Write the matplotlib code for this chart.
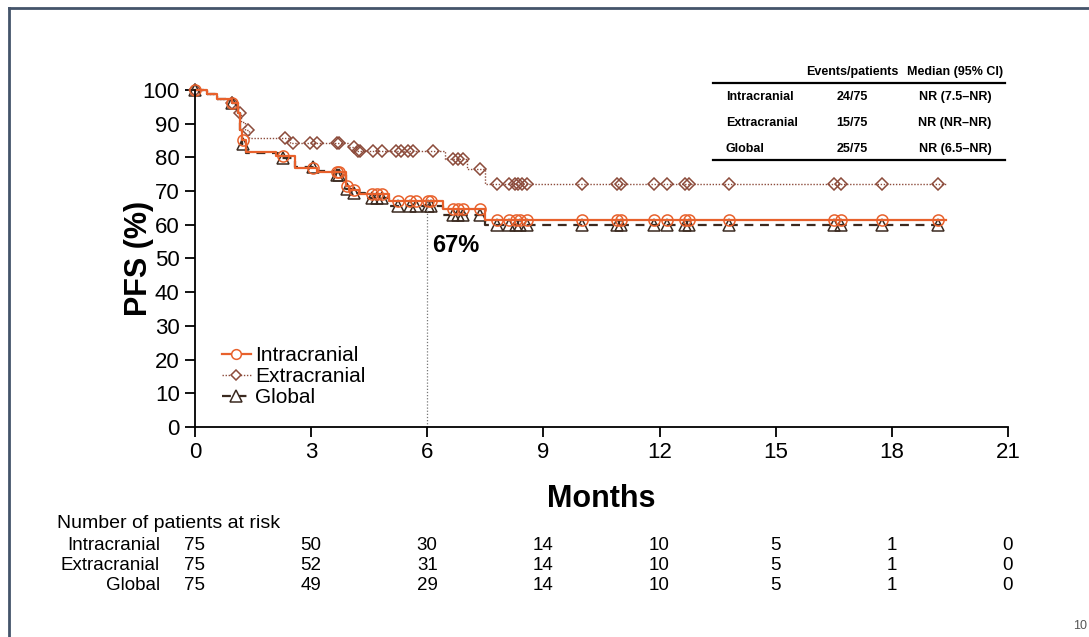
import numpy as np
import matplotlib
matplotlib.use("Agg")
import matplotlib.pyplot as plt
from matplotlib.lines import Line2D
from matplotlib.transforms import blended_transform_factory

plt.rcParams['font.family'] = ['Liberation Sans', 'DejaVu Sans']

# Kaplan-Meier steps (months, PFS %) and censoring times per group
ic_t = [0, 0.31, 0.56, 0.95, 1.10, 1.16, 1.22, 1.33, 2.10, 2.58, 3.15, 3.90, 3.97, 4.25, 5.00, 6.40, 7.50]
ic_s = [100, 98.7, 97.3, 96.0, 93.3, 88.0, 85.3, 81.7, 80.3, 77.0, 75.8, 71.6, 70.4, 69.2, 67.0, 64.7, 61.4]
ic_cens = [0.0, 0.97, 1.24, 2.28, 3.04, 3.66, 3.72, 3.93, 4.10, 4.57, 4.70, 4.82, 5.25, 5.55, 5.70,
           6.02, 6.10, 6.67, 6.80, 6.93, 7.36, 7.80, 8.10, 8.30, 8.40, 8.57, 10.0, 10.9, 11.0,
           11.85, 12.2, 12.67, 12.75, 13.8, 16.5, 16.7, 17.75, 19.2]

ec_t = [0, 0.31, 0.56, 0.95, 1.12, 1.18, 1.30, 1.40, 2.45, 3.95, 4.15, 6.46, 7.02, 7.50]
ec_s = [100, 98.7, 97.3, 96.0, 93.3, 90.6, 88.0, 85.7, 84.4, 83.1, 82.0, 79.5, 76.5, 72.2]
ec_cens = [0.0, 0.97, 1.16, 1.37, 2.33, 2.53, 2.97, 3.14, 3.66, 3.72, 4.10, 4.20, 4.27, 4.60,
           4.82, 5.20, 5.33, 5.50, 5.63, 6.15, 6.67, 6.80, 6.93, 7.36, 7.80, 8.10, 8.27, 8.35,
           8.44, 8.57, 10.0, 10.9, 11.0, 11.85, 12.2, 12.67, 12.75, 13.8, 16.5, 16.7, 17.75, 19.2]

gl_t = [0, 0.31, 0.56, 0.95, 1.10, 1.16, 1.22, 1.33, 2.15, 2.58, 3.10, 3.60, 3.90, 4.05, 4.40, 5.00, 6.40, 7.50]
gl_s = [100, 98.7, 97.3, 96.0, 93.3, 88.0, 84.0, 81.3, 79.9, 77.3, 76.0, 74.7, 70.7, 69.3, 68.0, 65.5, 63.0, 60.0]
gl_cens = ic_cens

last_fu = 19.4

groups = ['Intracranial', 'Extracranial', 'Global']
events = ['24/75', '15/75', '25/75']
medians = ['NR (7.5\u2013NR)', 'NR (NR\u2013NR)', 'NR (6.5\u2013NR)']

risk_months = [0, 3, 6, 9, 12, 15, 18, 21]
risk_ic = [75, 50, 30, 14, 10, 5, 1, 0]
risk_ec = [75, 52, 31, 14, 10, 5, 1, 0]
risk_gl = [75, 49, 29, 14, 10, 5, 1, 0]

orange = '#e8612c'
brown = '#8c4b3b'
dark = '#3b2a20'


def km_at(t, s, x):
    idx = np.searchsorted(t, x, side='right') - 1
    return np.asarray(s)[idx]


fig = plt.figure(figsize=(10.89, 6.37), dpi=100)
ax = fig.add_axes([0.179, 0.3297, 0.7466, 0.529])

series = [
    (ec_t, ec_s, ec_cens, brown, (0, (1, 1.2)), 1.0, 'D', 6.5, 'Extracranial'),
    (gl_t, gl_s, gl_cens, dark, (0, (4, 3)), 1.6, '^', 9, 'Global'),
    (ic_t, ic_s, ic_cens, orange, '-', 1.6, 'o', 8, 'Intracranial'),
]
handles = {}
for t, s, cens, col, ls, lw, mk, ms, name in series:
    ax.step(t + [last_fu], s + [s[-1]], where='post', color=col, ls=ls, lw=lw, clip_on=False)
    mcol = dark if mk == '^' else col
    ax.plot(cens, km_at(t, s, cens), ls='none', marker=mk, ms=ms, mfc='none',
            mec=mcol, mew=1.1, clip_on=False)
    handles[name] = Line2D([], [], color=col, ls=ls, lw=lw, marker=mk, ms=ms - 1,
                           mfc='white', mec=mcol, mew=1.1)

# landmark at 6 months
v6 = km_at(ic_t, ic_s, 6)
ax.plot([6, 6], [0, v6], color='#777777', ls=(0, (1, 1.5)), lw=0.9)
ax.text(6.12, 54, f'{v6:.0f}%', fontsize=17, fontweight='bold', va='center', ha='left')

ax.set_xlim(0, 21)
ax.set_ylim(0, 100)
ax.set_xticks(range(0, 22, 3))
ax.set_yticks(range(0, 101, 10))
for sp in ['top', 'right']:
    ax.spines[sp].set_visible(False)
for sp in ['left', 'bottom']:
    ax.spines[sp].set_linewidth(1.3)
ax.tick_params(direction='out', length=7, width=1.3, labelsize=16, pad=4)
ax.set_xlabel('Months', fontsize=22, fontweight='bold', labelpad=15)
ax.set_ylabel('PFS (%)', fontsize=22, fontweight='bold')
ax.yaxis.set_label_coords(-0.05, 0.5)

leg = ax.legend([handles[g] for g in groups], groups, loc='upper left',
                bbox_to_anchor=(0.01, 0.295), frameon=False, fontsize=15,
                handlelength=1.4, handletextpad=0.2, labelspacing=0.1, numpoints=1)

# summary table, top right
W, H = 1089, 637
fx = lambda px: px / W
fy = lambda py: 1 - py / H
fig.add_artist(Line2D([fx(713), fx(1005)], [fy(83), fy(83)], color='black', lw=1.6))
fig.add_artist(Line2D([fx(713), fx(1005)], [fy(160), fy(160)], color='black', lw=1.6))
fig.text(fx(852), fy(72), 'Events/patients', fontsize=9, fontweight='bold', ha='center', va='center')
fig.text(fx(955), fy(72), 'Median (95% CI)', fontsize=9, fontweight='bold', ha='center', va='center')
for i, (g, e, m) in enumerate(zip(groups, events, medians)):
    y = fy(97 + 26 * i)
    fig.text(fx(726), y, g, fontsize=9, fontweight='bold', ha='left', va='center')
    fig.text(fx(852), y, e, fontsize=9, fontweight='bold', ha='center', va='center')
    fig.text(fx(955), y, m, fontsize=9, fontweight='bold', ha='center', va='center')

# numbers at risk
fig.text(fx(57), fy(523), 'Number of patients at risk', fontsize=14, ha='left', va='center')
tr = blended_transform_factory(ax.transData, fig.transFigure)
for i, (g, row) in enumerate(zip(groups, [risk_ic, risk_ec, risk_gl])):
    y = fy(545 + 20 * i)
    fig.text(fx(160), y, g, fontsize=13.5, ha='right', va='center')
    for m, n in zip(risk_months, row):
        ax.text(m, y, str(n), transform=tr, fontsize=13.5, ha='center', va='center')

# slide frame and page number
fig.add_artist(Line2D([fx(9), 1], [fy(8), fy(8)], color='#44546a', lw=2))
fig.add_artist(Line2D([fx(9), fx(9)], [0, fy(8)], color='#44546a', lw=2))
fig.text(fx(1087), fy(626), '10', fontsize=9, color='#555555', ha='right', va='center')

fig.savefig('out.png', dpi=100)
